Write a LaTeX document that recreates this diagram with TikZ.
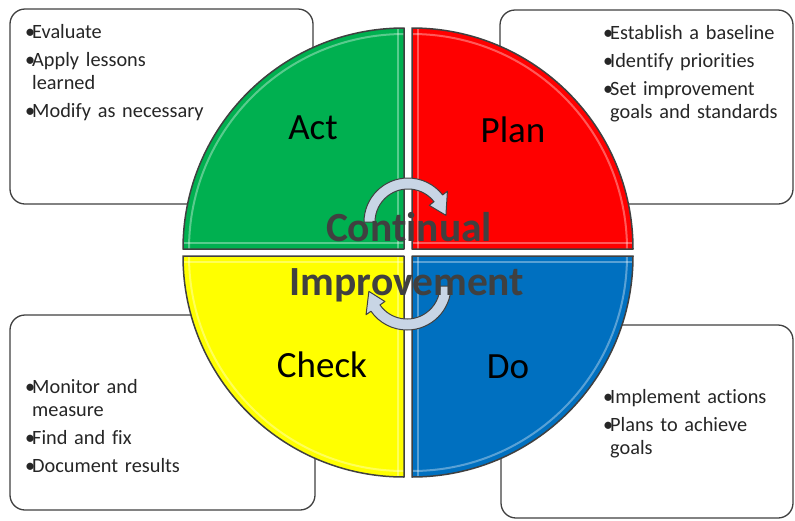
\documentclass[tikz,border=0pt]{standalone}
\usepackage{fontspec}
\setmainfont{Carlito}[Ligatures=NoCommon]
\usetikzlibrary{positioning}

\definecolor{actgreen}{RGB}{0,176,80}
\definecolor{planred}{RGB}{255,0,0}
\definecolor{checkyellow}{RGB}{255,255,0}
\definecolor{doblue}{RGB}{0,112,192}
\definecolor{edgegray}{RGB}{64,64,64}
\definecolor{titlegray}{RGB}{64,64,64}
\definecolor{arrowblue}{RGB}{200,213,229}

\newcommand\itm{\makebox[7pt][l]{•}}
\newcommand\ind{\hspace*{7pt}}

\begin{document}
\begin{tikzpicture}[x=1pt, y=-1pt,
    infobox/.style={draw=edgegray, line width=1.3pt, rounded corners=15pt, fill=white},
    bullets/.style={anchor=base west, inner sep=0pt, text width=200pt, align=left,
        font=\fontsize{20.3}{23}\selectfont, text=black!85},
    quad/.style={draw=edgegray, line width=1.5pt, line join=round},
    shine/.style={white, opacity=0.35, line width=2pt},
    turn/.style={fill=arrowblue, draw=edgegray, line width=1pt, line join=round},
    phase/.style={inner sep=0pt, font=\fontsize{37}{40}\selectfont},
    title/.style={anchor=base, inner sep=0pt, text=titlegray,
        font=\fontsize{41.5}{50}\selectfont\bfseries}]
    \useasboundingbox (0,0) rectangle (795,520);

    % boxes behind the wheel
    \draw[infobox] (10,9) rectangle (313,204);
    \draw[infobox] (500,10) rectangle (793,204);
    \draw[infobox] (10,315) rectangle (315,510);
    \draw[infobox] (501,325) rectangle (793,518);

    \node[bullets] (acttext) at (25,38)
        {\itm Evaluate\\[5pt]\itm Apply lessons\\\ind learned\\[5pt]\itm Modify as necessary};
    \node[bullets] (plantext) at (603,39)
        {\itm Establish a baseline\\[5pt]\itm Identify priorities\\[5pt]\itm Set improvement\\\ind goals and standards};
    \node[bullets] (checktext) at (25,393)
        {\itm Monitor and\\\ind measure\\[5pt]\itm Find and fix\\[5pt]\itm Document results};
    \node[bullets] (dotext) at (603,403)
        {\itm Implement actions\\[5pt]\itm Plans to achieve\\\ind goals};

    % the four quarters
    \foreach \cx/\cy/\a/\col in {404/249/270/actgreen, 412/249/0/planred,
                                 404/256/180/checkyellow, 412/256/90/doblue} {
        \begin{scope}
            \clip (\cx,\cy) -- ++(\a:221) arc[start angle=\a, delta angle=-90, radius=221] -- cycle;
            \fill[\col] (\cx,\cy) -- ++(\a:221) arc[start angle=\a, delta angle=-90, radius=221] -- cycle;
            \draw[shine] (\cx,\cy) ++(\a:215) arc[start angle=\a, delta angle=-90, radius=215];
            \draw[shine] ([shift={(\a-90:6)}]\cx,\cy) -- ++(\a:230);
            \draw[shine] ([shift={(\a:6)}]\cx,\cy) -- ++(\a-90:230);
        \end{scope}
        \draw[quad] (\cx,\cy) -- ++(\a:221) arc[start angle=\a, delta angle=-90, radius=221] -- cycle;
    }

    % turning arrows
    \begin{scope}[shift={(408,222)}]
        \filldraw[turn] (180:44) arc[start angle=180, end angle=322, radius=44]
            -- (322:50) -- (350:38.5) -- (322:27) -- (322:33)
            arc[start angle=322, end angle=180, radius=33] -- cycle;
    \end{scope}
    \begin{scope}[shift={(407,286)}]
        \filldraw[turn] (0:44) arc[start angle=0, end angle=145, radius=44]
            -- (145:50) -- (172:38.5) -- (145:27) -- (145:33)
            arc[start angle=145, end angle=0, radius=33] -- cycle;
    \end{scope}

    \node[title] (cont) at (409,241) {Continual};
    \node[title] (impr) at (407,295) {Improvement};

    \node[phase] (act) at (313,128) {Act};
    \node[phase] (plan) at (513,130) {Plan};
    \node[phase] (check) at (322,365) {Check};
    \node[phase] (do) at (508,367) {Do};
\end{tikzpicture}
\end{document}
